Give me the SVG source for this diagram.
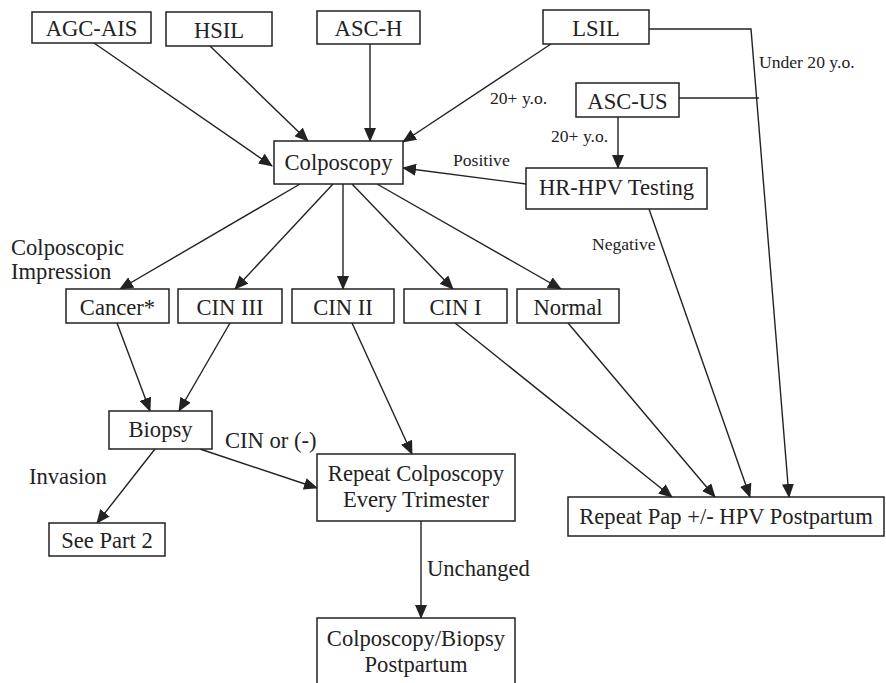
<svg xmlns="http://www.w3.org/2000/svg" width="886" height="683" viewBox="0 0 886 683">
<style>
rect{fill:#fff;stroke:#222;stroke-width:1.5}
text{font-family:"Liberation Serif","Times New Roman",serif;fill:#222}
.b{font-size:22.6px;text-anchor:middle}
.l{font-size:22.6px}
.s{font-size:17.6px}
#connectors line,#connectors polyline{stroke:#222;stroke-width:1.4;fill:none}
.a{marker-end:url(#ah)}
</style>
<defs>
<marker id="ah" markerUnits="userSpaceOnUse" markerWidth="14" markerHeight="12" viewBox="0 0 14 12" refX="13" refY="6" orient="auto">
<path d="M0,0 L14,6 L0,12 z" fill="#222"/>
</marker>
</defs>
<rect x="0" y="0" width="886" height="683" style="stroke:none"/>
<g id="connectors">
<line class="a" x1="94" y1="43" x2="272" y2="166"/>
<line class="a" x1="210" y1="46" x2="308" y2="141"/>
<line class="a" x1="370" y1="44" x2="370" y2="141"/>
<line class="a" x1="551" y1="44" x2="403" y2="142"/>
<polyline class="a" points="649,29 751,29 789,497"/>
<line x1="679" y1="98" x2="759" y2="98"/>
<line class="a" x1="618" y1="117" x2="618" y2="168"/>
<line class="a" x1="526" y1="184" x2="403" y2="168"/>
<line class="a" x1="649" y1="209" x2="750" y2="497"/>
<line class="a" x1="300" y1="184" x2="120" y2="289"/>
<line class="a" x1="333" y1="184" x2="235" y2="289"/>
<line class="a" x1="343" y1="184" x2="343" y2="289"/>
<line class="a" x1="352" y1="184" x2="453" y2="289"/>
<line class="a" x1="377" y1="184" x2="561" y2="289"/>
<line class="a" x1="117" y1="323" x2="150" y2="411"/>
<line class="a" x1="230" y1="323" x2="179" y2="411"/>
<line class="a" x1="352" y1="323" x2="412" y2="454"/>
<line class="a" x1="455" y1="323" x2="672" y2="497"/>
<line class="a" x1="568" y1="323" x2="715" y2="497"/>
<line class="a" x1="155" y1="449" x2="97" y2="523"/>
<line class="a" x1="200" y1="449" x2="317" y2="488"/>
<line class="a" x1="421" y1="521" x2="421" y2="618"/>
<text class="s" x="759" y="68">Under 20 y.o.</text>
<text class="s" x="490" y="104">20+ y.o.</text>
<text class="s" x="551" y="142">20+ y.o.</text>
<text class="s" x="453" y="166">Positive</text>
<text class="s" x="592" y="250">Negative</text>
<text class="l" x="225" y="448">CIN or (-)</text>
<text class="l" x="29" y="484">Invasion</text>
<text class="l" x="427" y="576">Unchanged</text>
<text class="l" x="11" y="255">Colposcopic</text>
<text class="l" x="11" y="279">Impression</text>
</g>
<g id="agc"><rect x="32" y="12" width="119" height="31"/><text class="b" x="91.5" y="36">AGC-AIS</text></g>
<g id="hsil"><rect x="166" y="12" width="106" height="34"/><text class="b" x="219" y="38">HSIL</text></g>
<g id="asch"><rect x="317" y="11" width="103" height="33"/><text class="b" x="368.5" y="36">ASC-H</text></g>
<g id="lsil"><rect x="543" y="10" width="106" height="34"/><text class="b" x="596" y="36">LSIL</text></g>
<g id="ascus"><rect x="576" y="83" width="103" height="34"/><text class="b" x="627.5" y="109">ASC-US</text></g>
<g id="hrhpv"><rect x="526" y="168" width="181" height="41"/><text class="b" x="616.5" y="195">HR-HPV Testing</text></g>
<g id="colpo"><rect x="274" y="141" width="129" height="43"/><text class="b" x="338.5" y="170">Colposcopy</text></g>
<g id="cancer"><rect x="66" y="289" width="103" height="34"/><text class="b" x="117.5" y="315">Cancer*</text></g>
<g id="cin3"><rect x="178" y="289" width="104" height="34"/><text class="b" x="230" y="315">CIN III</text></g>
<g id="cin2"><rect x="292" y="289" width="102" height="34"/><text class="b" x="343" y="315">CIN II</text></g>
<g id="cin1"><rect x="404" y="289" width="103" height="34"/><text class="b" x="455.5" y="315">CIN I</text></g>
<g id="normal"><rect x="517" y="289" width="102" height="34"/><text class="b" x="568" y="315">Normal</text></g>
<g id="biopsy"><rect x="109" y="411" width="103" height="38"/><text class="b" x="160.5" y="437">Biopsy</text></g>
<g id="part2"><rect x="49" y="523" width="116" height="33"/><text class="b" x="107" y="548">See Part 2</text></g>
<g id="repeatcolpo"><rect x="317" y="454" width="198" height="67"/><text class="b" x="416" y="481">Repeat Colposcopy</text><text class="b" x="416" y="507">Every Trimester</text></g>
<g id="colpobiopsy"><rect x="317" y="618" width="198" height="80"/><text class="b" x="416" y="646">Colposcopy/Biopsy</text><text class="b" x="416" y="672">Postpartum</text></g>
<g id="repeatpap"><rect x="568" y="497" width="316" height="39"/><text class="b" x="726" y="524">Repeat Pap +/- HPV Postpartum</text></g>
</svg>
